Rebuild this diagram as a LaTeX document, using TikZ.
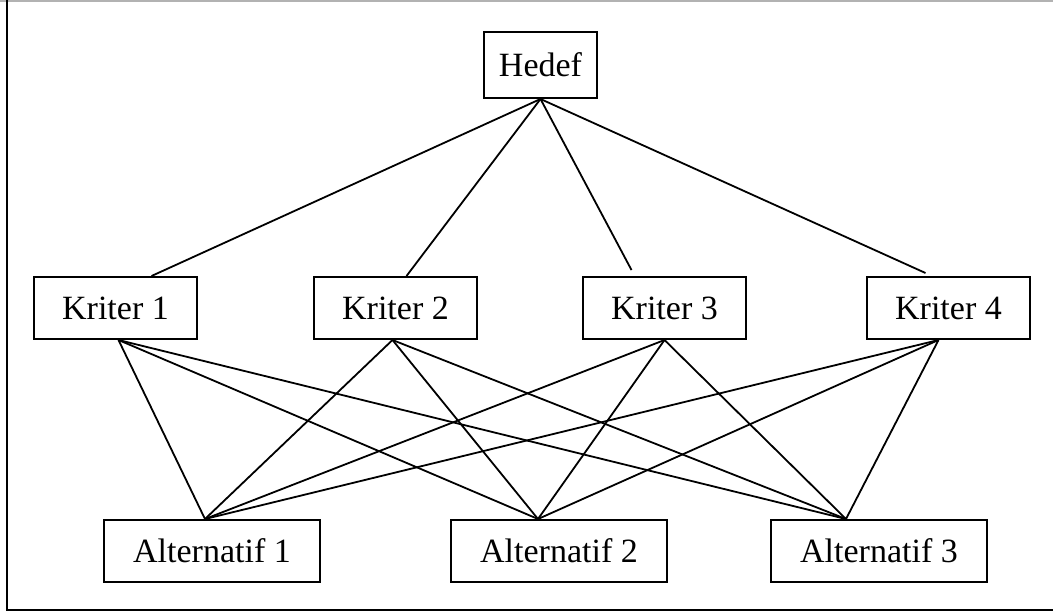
\documentclass[tikz,border=0pt]{standalone}
\usepackage{fontspec}
\setmainfont{Liberation Serif}
\usepackage{tikz}
\usetikzlibrary{positioning}
\tikzset{
	thick,
	every edge/.style={draw=black, line width=1.8pt},
}

\begin{document}
\begin{tikzpicture}
	[x=1pt, y=-1pt, font=\fontsize{34}{40}\selectfont,
		% STYLES
		% The level style is used for the boxes of every level
		level/.style={rectangle, draw, line width=2pt, inner sep=0pt,
				minimum height=62pt},
		% criteria and alternatives
		crit/.style={level, minimum width=163pt},
		alt/.style={level, minimum width=216pt}]

	\useasboundingbox (0,0) rectangle (1053,614);

	% frame
	\draw[black!30, line width=2pt] (0,1) -- (1053,1);
	\draw[line width=2.5pt] (7,0) -- (7,610) -- (1053,610);

	% Draw levels
	\node [level, minimum width=113pt, minimum height=66pt] (hedef) at (540.5,65) {Hedef};

	\node [crit] (k1) at (115.5,308) {Kriter 1};
	\node [crit] (k2) at (395.5,308) {Kriter 2};
	\node [crit] (k3) at (664.5,308) {Kriter 3};
	\node [crit] (k4) at (948.5,308) {Kriter 4};

	\node [alt] (a1) at (212,551) {Alternatif 1};
	\node [alt] (a2) at (559,551) {Alternatif 2};
	\node [alt] (a3) at (879,551) {Alternatif 3};

	% goal to criteria
	\path
	(hedef.south) edge ([xshift=36pt]k1.north)
	(hedef.south) edge ([xshift=11pt]k2.north)
	(hedef.south) edge ([xshift=-33pt,yshift=6pt]k3.north)
	(hedef.south) edge ([xshift=-23pt,yshift=3pt]k4.north);

	% criteria to alternatives
	\foreach \k/\kx in {k1/3, k2/-3, k3/0, k4/-10}
		\foreach \a/\ax in {a1/-7, a2/-21, a3/-33}
			\path ([xshift=\kx pt]\k.south) edge ([xshift=\ax pt]\a.north);

\end{tikzpicture}
\end{document}
